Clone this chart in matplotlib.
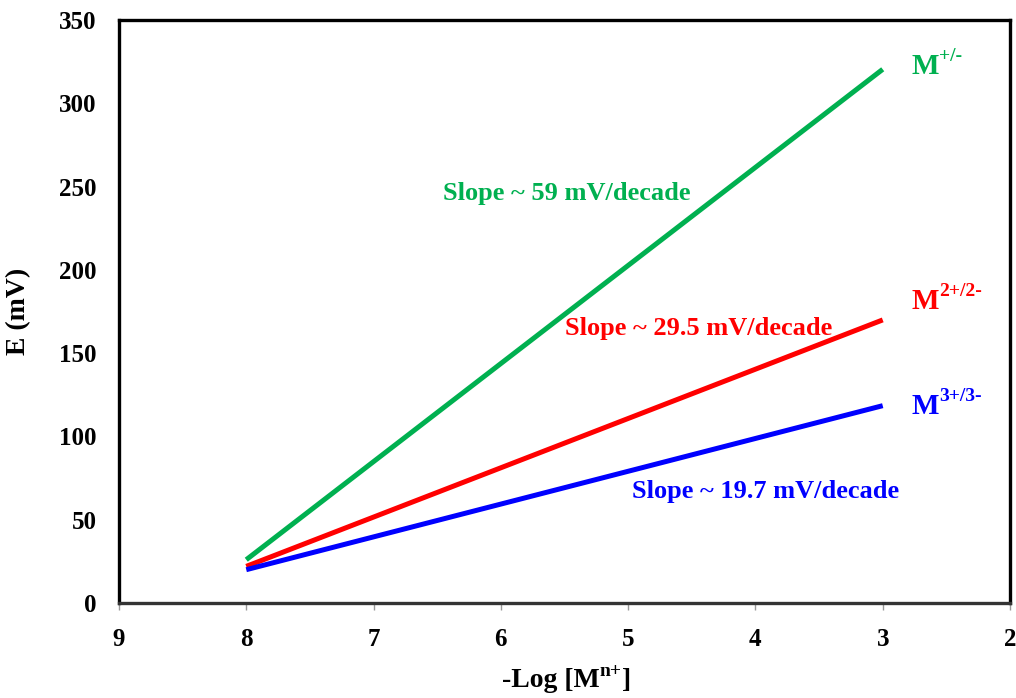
import matplotlib.pyplot as plt

plt.rcParams['font.family'] = 'Liberation Serif'
plt.rcParams['font.weight'] = 'bold'

# data
log_conc = [8, 3]
e_mono = [26, 320.5]
e_di = [22, 170]
e_tri = [20, 118.5]

colors = ['#00B050', '#FF0000', '#0000FF']
slope_texts = ['Slope ~ 59 mV/decade', 'Slope ~ 29.5 mV/decade', 'Slope ~ 19.7 mV/decade']
slope_pos = [(5.48, 246), (4.45, 165), (3.92, 67)]
ion_sups = ['+/-', '2+/2-', '3+/3-']
ion_pos = [(2.77, 322), (2.77, 181), (2.77, 118)]

fig = plt.figure(figsize=(10.16, 6.98), dpi=100)
ax = fig.add_axes([0.1171, 0.1361, 0.877, 0.835])

for y, c in zip([e_mono, e_di, e_tri], colors):
    ax.plot(log_conc, y, color=c, lw=3.6, solid_capstyle='butt')

for t, (x, y), c in zip(slope_texts, slope_pos, colors):
    ax.text(x, y, t, color=c, fontsize=19, fontweight='bold', ha='center', va='center')

# M labels with superscript charges
for s, (x, y), c in zip(ion_sups, ion_pos, colors):
    m = ax.text(x, y, 'M', color=c, fontsize=21, fontweight='bold', ha='left', va='center')
    ax.annotate(s, xy=(1, 0.55), xycoords=m, color=c, fontsize=14, fontweight='bold',
                ha='left', va='bottom')

ax.set_xlim(9, 2)
ax.set_ylim(0, 350)
ax.set_xticks(range(9, 1, -1))
ax.set_yticks(range(0, 351, 50))

for sp in ax.spines.values():
    sp.set_linewidth(2.4)
    sp.set_color('black')
ax.spines['bottom'].set_color('#333333')

ax.tick_params(axis='x', direction='out', length=5, width=1, color='#999999',
               pad=13, labelsize=18)
ax.tick_params(axis='y', length=0, pad=16, labelsize=18)

ax.set_ylabel('E (mV)', fontsize=20, fontweight='bold', labelpad=20)

# x label built from pieces so the superscript sits like the original
xl = fig.text(0.494, 0.016, '-Log [M', fontsize=20, fontweight='bold', ha='left', va='baseline')
sup = ax.annotate('n+', xy=(1, 0.52), xycoords=xl, fontsize=14, fontweight='bold',
                  ha='left', va='bottom', annotation_clip=False)
ax.annotate(']', xy=(1, 0), xycoords=(sup, xl), xytext=(0.5, 0), textcoords='offset points',
            fontsize=20, fontweight='bold', ha='left', va='bottom', annotation_clip=False)

fig.savefig('out.png', dpi=100)
